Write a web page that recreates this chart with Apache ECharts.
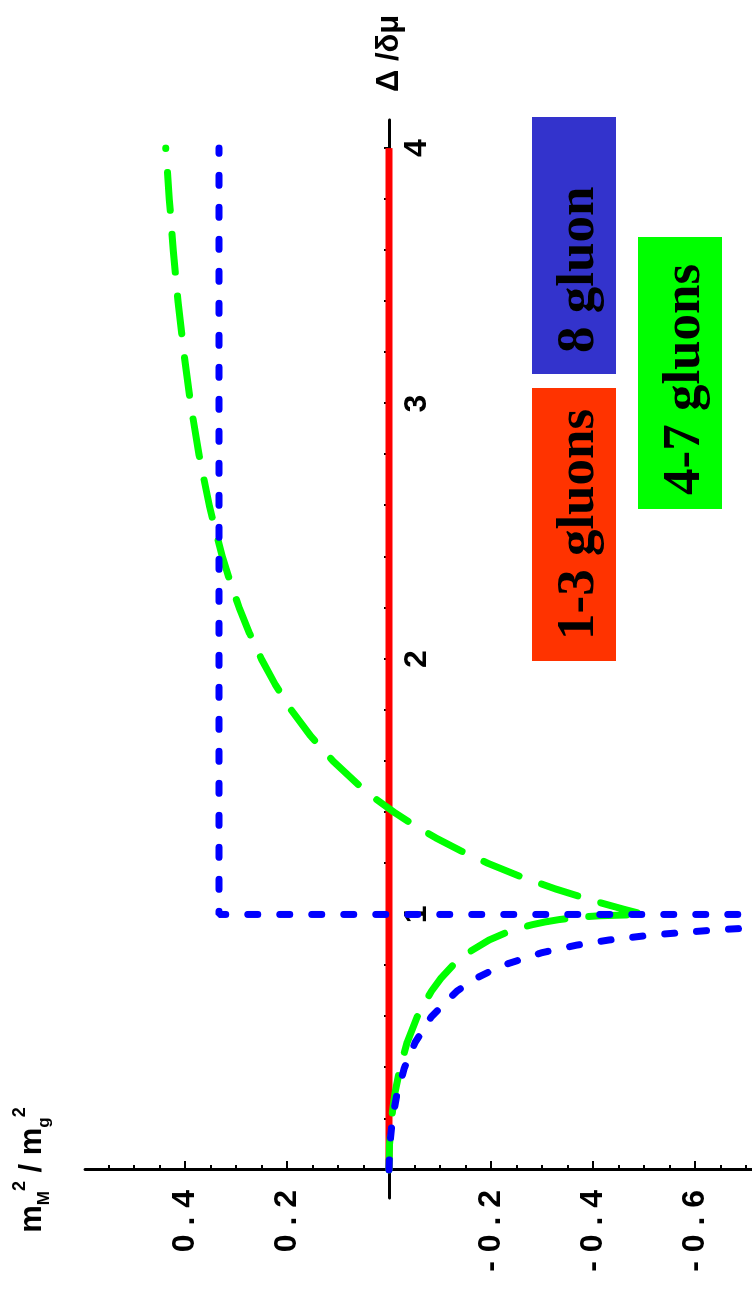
<!DOCTYPE html>
<html>
<head>
<meta charset="utf-8">
<script src="https://cdn.jsdelivr.net/npm/echarts@6/dist/echarts.min.js"></script>
<style>
  html, body { margin: 0; padding: 0; width: 752px; height: 1290px; overflow: hidden; background: #fff; }
  /* the plot is laid out landscape and turned a quarter turn counter-clockwise */
  #chart { position: absolute; left: 0; top: 0; width: 1290px; height: 752px;
           transform-origin: 0 0; transform: translate(0px, 1290px) rotate(-90deg); }
</style>
</head>
<body>
<div id="chart"></div>
<script>
// Meissner masses squared (in units of m_g^2) versus Delta/delta-mu
const delta13 = [0, 4];
const mass13 = [0, 0];

const deltaGreen = [0, 0.1, 0.2, 0.3, 0.4, 0.5, 0.6, 0.7, 0.75, 0.8, 0.85, 0.9,
  0.93, 0.95, 0.96, 0.97, 0.98, 0.99, 0.995, 1,
  1.02, 1.05, 1.1, 1.15, 1.2, 1.25, 1.3, 1.35, 1.4, 1.45, 1.5,
  1.6, 1.7, 1.8, 1.9, 2.0, 2.1, 2.2, 2.3, 2.4, 2.5, 2.6,
  2.8, 3.0, 3.2, 3.4, 3.6, 3.8, 4.0];
const mass47 = [0, -0.0013, -0.0051, -0.0118, -0.0218, -0.0359, -0.0556, -0.0834, -0.1019, -0.125, -0.155, -0.1964,
  -0.2312, -0.262, -0.2813, -0.3044, -0.334, -0.3764, -0.4142, -0.5,
  -0.4612, -0.407, -0.3264, -0.2561, -0.1944, -0.14, -0.0917, -0.0487, -0.0102, 0.0244, 0.0556,
  0.1094, 0.154, 0.1914, 0.223, 0.25, 0.2732, 0.2934, 0.311, 0.3264, 0.34, 0.3521,
  0.3724, 0.3889, 0.4023, 0.4135, 0.4228, 0.4307, 0.4375];

const deltaGluon8 = [0, 0.1, 0.2, 0.3, 0.4, 0.5, 0.6, 0.7, 0.75, 0.8, 0.85, 0.88, 0.9, 0.92, 0.94, 0.95, 0.96, 0.97, 0.98];
const mass8 = [0, -0.0017, -0.0069, -0.0161, -0.0304, -0.0516, -0.0833, -0.1334, -0.1706, -0.2222, -0.2994, -0.3685,
  -0.4314, -0.5172, -0.6437, -0.7342, -0.8571, -1.0378, -1.3417];
const deltaGluon8Gapped = [1, 1, 4];
const mass8Gapped = [-1.5, 0.3333, 0.3333];

const deltaTicks = [0.2, 0.4, 0.6, 0.8, 1, 1.2, 1.4, 1.6, 1.8, 2, 2.2, 2.4, 2.6, 2.8, 3, 3.2, 3.4, 3.6, 3.8, 4];
const deltaLabels = [1, 2, 3, 4];
const massLabels = [0.4, 0.2, -0.2, -0.4, -0.6];
const massMinorTicks = [0.55, 0.5, 0.45, 0.35, 0.3, 0.25, 0.15, 0.1, 0.05,
  -0.05, -0.1, -0.15, -0.25, -0.3, -0.35, -0.45, -0.5, -0.55, -0.65, -0.7];

const legendNames = ['8 gluon', '1-3 gluons', '4-7 gluons'];
const legendColors = ['#3333cc', '#ff3300', '#00ff00'];

const pairs = (xs, ys) => xs.map((x, i) => [x, ys[i]]);
const sans = "'Liberation Sans', Arial, sans-serif";
const serif = "'Liberation Serif', 'Times New Roman', serif";
const spaced = v => String(v).split('').join(' ');

const massMin = -0.712, massMax = 0.596;
const blackLine = { color: '#000', width: 3 };
const blackTick = { color: '#000', width: 2 };

const chart = echarts.init(document.getElementById('chart'), null, { renderer: 'canvas' });

chart.setOption({
  animation: false,
  backgroundColor: '#fff',
  grid: { left: 92, right: 120, top: 85, bottom: 0, outerBoundsMode: 'none' },
  xAxis: {
    type: 'value',
    min: -0.11,
    max: 4.11,
    position: 'bottom',
    offset: -363,           // axis drawn through m^2 = 0
    name: 'Δ /δμ',
    nameLocation: 'end',
    nameGap: 28,
    nameTextStyle: { fontFamily: sans, fontWeight: 'bold', fontSize: 31, color: '#000', verticalAlign: 'middle' },
    axisLine: { onZero: false, lineStyle: blackLine },
    axisTick: { inside: true, length: 5, customValues: deltaTicks, lineStyle: blackTick },
    axisLabel: { customValues: deltaLabels, margin: 12, fontFamily: sans, fontWeight: 'bold', fontSize: 32, color: '#000' },
    splitLine: { show: false }
  },
  yAxis: [
    {
      type: 'value',
      min: massMin,
      max: massMax,
      position: 'left',
      offset: -28,          // axis drawn through Delta = 0
      name: '{m|m}{sub|M}{sup|2}{m| / m}{sub|g}{sup|2}',
      nameLocation: 'end',
      nameGap: 32,
      nameTextStyle: {
        align: 'center',
        rich: {
          m: { fontFamily: sans, fontWeight: 'bold', fontSize: 31, color: '#000', lineHeight: 42, verticalAlign: 'middle' },
          sub: { fontFamily: sans, fontWeight: 'bold', fontSize: 17, color: '#000', lineHeight: 18, verticalAlign: 'bottom' },
          sup: { fontFamily: sans, fontWeight: 'bold', fontSize: 18, color: '#000', lineHeight: 18, verticalAlign: 'top' }
        }
      },
      axisLine: { onZero: false, lineStyle: blackLine },
      axisTick: { inside: true, length: 9, customValues: massLabels, lineStyle: blackTick },
      axisLabel: {
        customValues: massLabels,
        margin: 20,
        fontFamily: sans, fontWeight: 'bold', fontSize: 32, color: '#000',
        formatter: v => spaced((Math.round(v * 10) / 10).toFixed(1))
      },
      splitLine: { show: false }
    },
    {
      type: 'value',
      min: massMin,
      max: massMax,
      position: 'left',
      offset: -28,
      axisLine: { show: false, onZero: false },
      axisTick: { inside: true, length: 5, customValues: massMinorTicks, lineStyle: blackTick },
      axisLabel: { show: false },
      splitLine: { show: false }
    }
  ],
  series: [
    {
      name: '1-3 gluons', type: 'line', data: pairs(delta13, mass13), symbol: 'none',
      lineStyle: { color: '#ff0000', width: 7 }
    },
    {
      name: '4-7 gluons', type: 'line', data: pairs(deltaGreen, mass47), symbol: 'none',
      lineStyle: { color: '#00ff00', width: 7, type: [38, 24], dashOffset: 5, cap: 'round', join: 'round' }
    },
    {
      name: '8 gluon', type: 'line', data: pairs(deltaGluon8, mass8), symbol: 'none',
      lineStyle: { color: '#0000ff', width: 7, type: [10, 22], cap: 'round', join: 'round' }
    },
    {
      name: '8 gluon', type: 'line', data: pairs(deltaGluon8Gapped, mass8Gapped), symbol: 'none',
      lineStyle: { color: '#0000ff', width: 7, type: [10, 22], cap: 'round' }
    }
  ],
  graphic: [
    { type: 'rect', shape: { x: 916, y: 532, width: 257, height: 84 }, style: { fill: legendColors[0] } },
    { type: 'rect', shape: { x: 629, y: 532, width: 273, height: 84 }, style: { fill: legendColors[1] } },
    { type: 'rect', shape: { x: 781, y: 638, width: 272, height: 84 }, style: { fill: legendColors[2] } },
    { type: 'text', x: 937, y: 579, style: { text: legendNames[0], font: 'bold 53px ' + serif, fill: '#000', verticalAlign: 'middle', align: 'left' } },
    { type: 'text', x: 650, y: 579, style: { text: legendNames[1], font: 'bold 53px ' + serif, fill: '#000', verticalAlign: 'middle', align: 'left' } },
    { type: 'text', x: 795, y: 685, style: { text: legendNames[2], font: 'bold 53px ' + serif, fill: '#000', verticalAlign: 'middle', align: 'left' } }
  ]
});
</script>
</body>
</html>
